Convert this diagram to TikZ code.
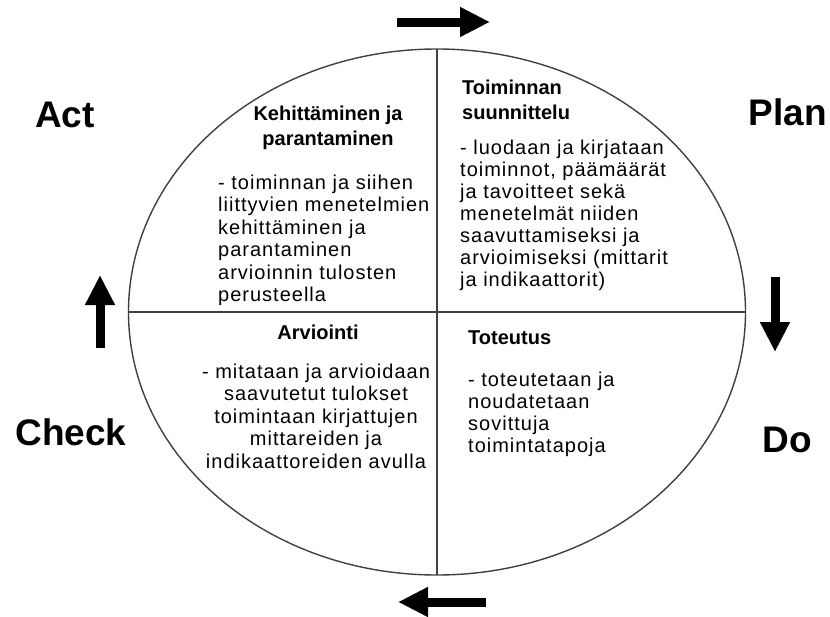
\documentclass[tikz,border=0pt]{standalone}
\usepackage{fontspec}
\setmainfont{Liberation Sans}
\newfontfamily\bodyfont[LetterSpace=5]{Liberation Sans}
\usetikzlibrary{arrows.meta}
\tikzset{
  phase/.style={font=\fontsize{37}{40}\selectfont\bfseries, inner sep=0pt},
  headtxt/.style={font=\fontsize{20}{25}\selectfont\bfseries, inner sep=0pt},
  bodytxt/.style={font=\bodyfont\fontsize{20}{22.5}\selectfont, inner sep=0pt},
  bigarrow/.style={line width=9pt, -{Triangle[length=30pt,width=28pt]}},
}
\begin{document}
\begin{tikzpicture}[x=1pt, y=-1pt, line join=round, line cap=butt]
				\useasboundingbox (0,0) rectangle (830,616);
				% circle and quadrants
				\coordinate (O) at (437,312);
				\coordinate (T) at (437,49);
				\coordinate (B) at (437,575);
				\coordinate (L) at (128.5,312);
				\coordinate (R) at (745.5,312);
				\draw[line width=1.4pt, black!75] (O) ellipse [x radius=308.5, y radius=263];
				\draw[line width=1.4pt, black!75] (T)--(B);
				\draw[line width=1.4pt, black!75] (L)--(R);
				% phase names
				\node[phase, anchor=base] (act) at (65,127) {Act};
				\node[phase, anchor=base] (plan) at (788,125) {Plan};
				\node[phase, anchor=base] (check) at (71,445) {Check};
				\node[phase, anchor=base] (do) at (787,452) {Do};
				% arrows round the circle
				\coordinate (a1) at (397,22);  \coordinate (a2) at (490,22);
				\coordinate (b1) at (775,277); \coordinate (b2) at (775,352);
				\coordinate (c1) at (486,602); \coordinate (c2) at (398,602);
				\coordinate (d1) at (100,348); \coordinate (d2) at (100,275);
				\draw[bigarrow] (a1)--(a2);
				\draw[bigarrow] (b1)--(b2);
				\draw[bigarrow] (c1)--(c2);
				\draw[bigarrow] (d1)--(d2);
				% Act (base = last line)
				\node[headtxt, align=center, anchor=base] (acth) at (328,145)
				{Kehittäminen ja\\parantaminen};
				\node[bodytxt, align=left, anchor=base west] (actb) at (218,301.5)
				{- toiminnan ja siihen\\liittyvien menetelmien\\kehittäminen ja\\parantaminen\\arvioinnin tulosten\\perusteella};
				% Plan
				\node[headtxt, align=left, anchor=base west] (planh) at (462,119)
				{Toiminnan\\suunnittelu};
				\node[bodytxt, align=left, anchor=base west, font=\bodyfont\fontsize{20}{22}\selectfont] (planb) at (460,286)
				{- luodaan ja kirjataan\\toiminnot, päämäärät\\ja tavoitteet sekä\\menetelmät niiden\\saavuttamiseksi ja\\arvioimiseksi (mittarit\\ja indikaattorit)};
				% Check
				\node[headtxt, anchor=base] (checkh) at (318,339) {Arviointi};
				\node[bodytxt, align=center, anchor=base] (checkb) at (316,468)
				{- mitataan ja arvioidaan\\saavutetut tulokset\\toimintaan kirjattujen\\mittareiden ja\\indikaattoreiden avulla};
				% Do
				\node[headtxt, anchor=base west] (doh) at (468,344) {Toteutus};
				\node[bodytxt, align=left, anchor=base west, font=\bodyfont\fontsize{20}{22}\selectfont] (dob) at (468,452)
				{- toteutetaan ja\\noudatetaan\\sovittuja\\toimintatapoja};
\end{tikzpicture}
\end{document}
